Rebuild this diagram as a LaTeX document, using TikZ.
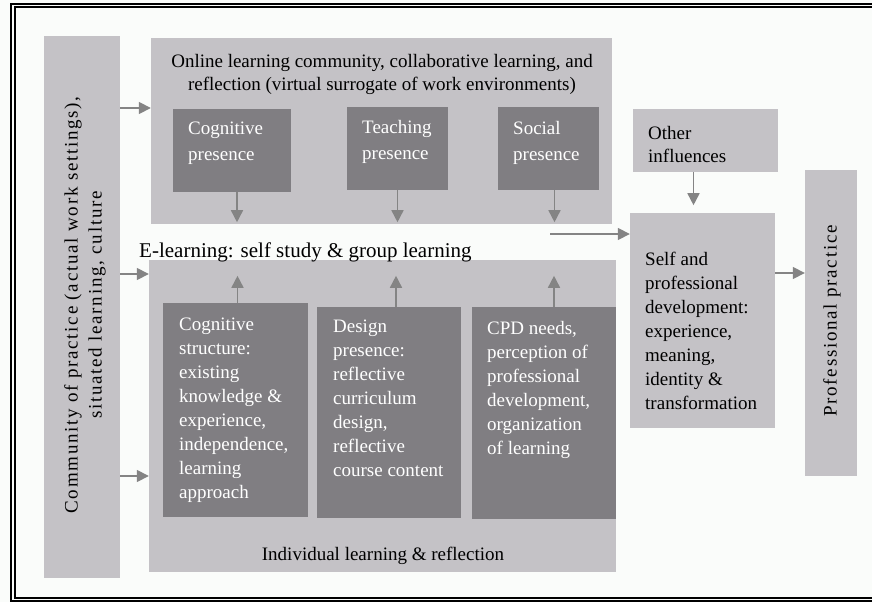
\documentclass[tikz,border=0pt]{standalone}
\usepackage{fontspec}
\setmainfont{Liberation Serif}
\newfontfamily\spacedfont[LetterSpace=9]{Liberation Serif}
\usetikzlibrary{arrows.meta,fit}
\definecolor{boxgray}{HTML}{C4C2C6}
\definecolor{deepgray}{HTML}{807E82}
\definecolor{arrowgray}{HTML}{848484}
\definecolor{paper}{HTML}{FAFCFA}
\begin{document}
\begin{tikzpicture}[
			x=1pt, y=-1pt,
			lightbox/.style={fill=boxgray, inner sep=0pt},
			darkbox/.style={fill=deepgray, inner sep=0pt},
			boxtext/.style={anchor=north west, inner sep=0pt, align=left, font=\fontsize{19}{24}\selectfont},
			darktext/.style={boxtext, text=white},
			sidetext/.style={rotate=90, inner sep=0pt, align=center, font=\spacedfont\fontsize{19}{24}\selectfont},
			arr/.style={draw=arrowgray, line width=1.6pt, -{Triangle[length=12pt,width=12pt]}},
			frameline/.style={line width=2pt}
		]
		\fill[paper] (0,0) rectangle (872,602);
		\useasboundingbox (0,0) rectangle (872,602);
		\draw[frameline] (872,3.7) -- (11.3,3.7) -- (11.3,601) -- (872,601);
		\draw[frameline] (872,7) -- (15,7) -- (15,598) -- (872,598);
		% light boxes
		\node[lightbox, fit={(44,36) (120,578)}] (comm) {};
		\node[lightbox, fit={(151,38) (612,224)}] (online) {};
		\node[lightbox, fit={(149,260) (616,572)}] (indiv) {};
		\node[lightbox, fit={(633,109) (778,172)}] (other) {};
		\node[lightbox, fit={(630,213) (775,428)}] (self) {};
		\node[lightbox, fit={(805,170) (857,476)}] (prof) {};
		% dark boxes
		\node[darkbox, fit={(173,109) (291,192)}] (cogp) {};
		\node[darkbox, fit={(347,107) (448,190)}] (teach) {};
		\node[darkbox, fit={(498,107) (599,190)}] (social) {};
		\node[darkbox, fit={(163,303) (308,517)}] (cogs) {};
		\node[darkbox, fit={(317,307) (461,518)}] (design) {};
		\node[darkbox, fit={(472,307) (616,519)}] (cpd) {};
		% texts
		\node[sidetext] (commtext) at (85,305) {Community of practice (actual work settings),\\situated learning, culture};
		\node[sidetext] (proftext) at (832,321) {Professional practice};
		\node[boxtext, anchor=north, align=center, font=\fontsize{19}{23}\selectfont] (onlinetext) at (382,54)
			{Online learning community, collaborative learning, and\\reflection (virtual surrogate of work environments)};
		\node[darktext, font=\fontsize{19}{26}\selectfont] (cogptext) at (188,122) {Cognitive\\presence};
		\node[darktext, font=\fontsize{19}{26}\selectfont] (teachtext) at (362,120) {Teaching\\presence};
		\node[darktext, font=\fontsize{19}{26}\selectfont] (socialtext) at (513,121) {Social\\presence};
		\node[anchor=base west, inner sep=0pt, font=\fontsize{21}{24}\selectfont] (elearn) at (139,257)
			{E-learning: self study \& group learning};
		\node[darktext] (cogstext) at (179,318)
			{Cognitive\\structure:\\existing\\knowledge \&\\experience,\\independence,\\learning\\approach};
		\node[darktext] (designtext) at (333,320)
			{Design\\presence:\\reflective\\curriculum\\design,\\reflective\\course content};
		\node[darktext] (cpdtext) at (487,321)
			{CPD needs,\\perception of\\professional\\development,\\organization\\of learning};
		\node[anchor=base, inner sep=0pt, font=\fontsize{19}{24}\selectfont] (indivtext) at (383,560)
			{Individual learning \& reflection};
		\node[boxtext, font=\fontsize{19}{23}\selectfont] (othertext) at (648,126) {Other\\influences};
		\node[boxtext] (selftext) at (645,252)
			{Self and\\professional\\development:\\experience,\\meaning,\\identity \&\\transformation};
		% arrows
		\coordinate (elend) at (550,234);
		\draw[arr] (comm.east |- 0,108) -- (online.west |- 0,108);
		\draw[arr] (comm.east |- 0,274) -- (indiv.west |- 0,274);
		\draw[arr] (comm.east |- 0,476) -- (indiv.west |- 0,476);
		\draw[arr] ([xshift=5pt]cogp.south) -- ++(0,30);
		\draw[arr] (teach.south) -- ++(0,32);
		\draw[arr] ([xshift=6pt]social.south) -- ++(0,32);
		\draw[arr] ([xshift=2pt]cogs.north) -- ++(0,-27);
		\draw[arr] ([xshift=7pt]design.north) -- ++(0,-31);
		\draw[arr] ([xshift=10pt]cpd.north) -- ++(0,-31);
		\draw[arr] (elend) -- (self.west |- elend);
		\draw[arr] ([xshift=-12pt]other.south) -- ++(0,33);
		\draw[arr] (self.east |- 0,273) -- (prof.west |- 0,273);
	\end{tikzpicture}
\end{document}
